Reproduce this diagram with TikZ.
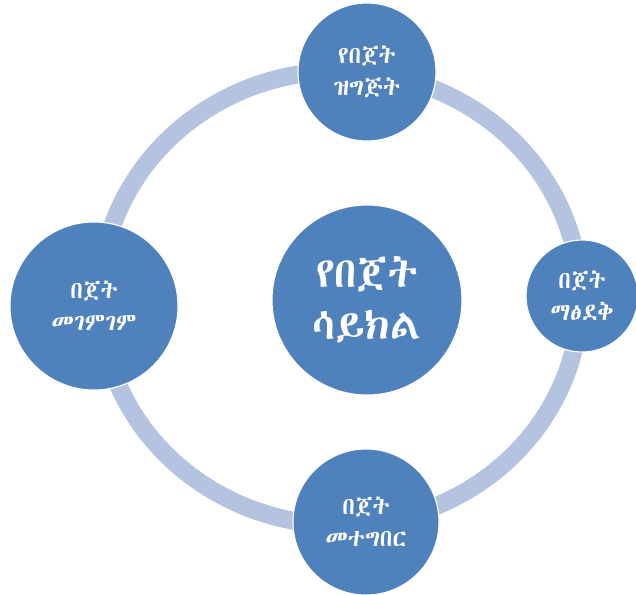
\documentclass[tikz,border=0pt]{standalone}
\usepackage{fontspec}
\newfontfamily\ethfont{Abyssinica SIL}
\definecolor{stageblue}{RGB}{79,129,189}
\definecolor{ringblue}{RGB}{180,196,224}
\tikzset{
  stage/.style={circle, fill=stageblue, draw=white, line width=0.8pt,
    text=white, align=center, inner sep=0pt, font=\ethfont\fontsize{17}{23}\selectfont},
}
\begin{document}
\begin{tikzpicture}[x=0.025cm, y=-0.025cm]
    \useasboundingbox (0,0) rectangle (636,594);
    % the cycle ring
    \draw[ringblue, line width=0.45cm] (340,298) ellipse [x radius=240, y radius=227];

    % stages
    \node[stage, minimum size=4.75cm, font=\ethfont\fontsize{30}{37}\selectfont] (cycle) at (367,300) {የበጀት\\ሳይክል};
    \node[stage, minimum size=3.45cm] (prep) at (367,72) {የበጀት\\ዝግጅት};
    \node[stage, minimum size=2.8cm] (approve) at (582,296) {በጀት\\ማፅደቅ};
    \node[stage, minimum size=3.65cm] (execute) at (366,522) {በጀት\\መተግበር};
    \node[stage, minimum size=4.2cm] (review) at (94,306) {በጀት\\መገምገም};
\end{tikzpicture}
\end{document}
